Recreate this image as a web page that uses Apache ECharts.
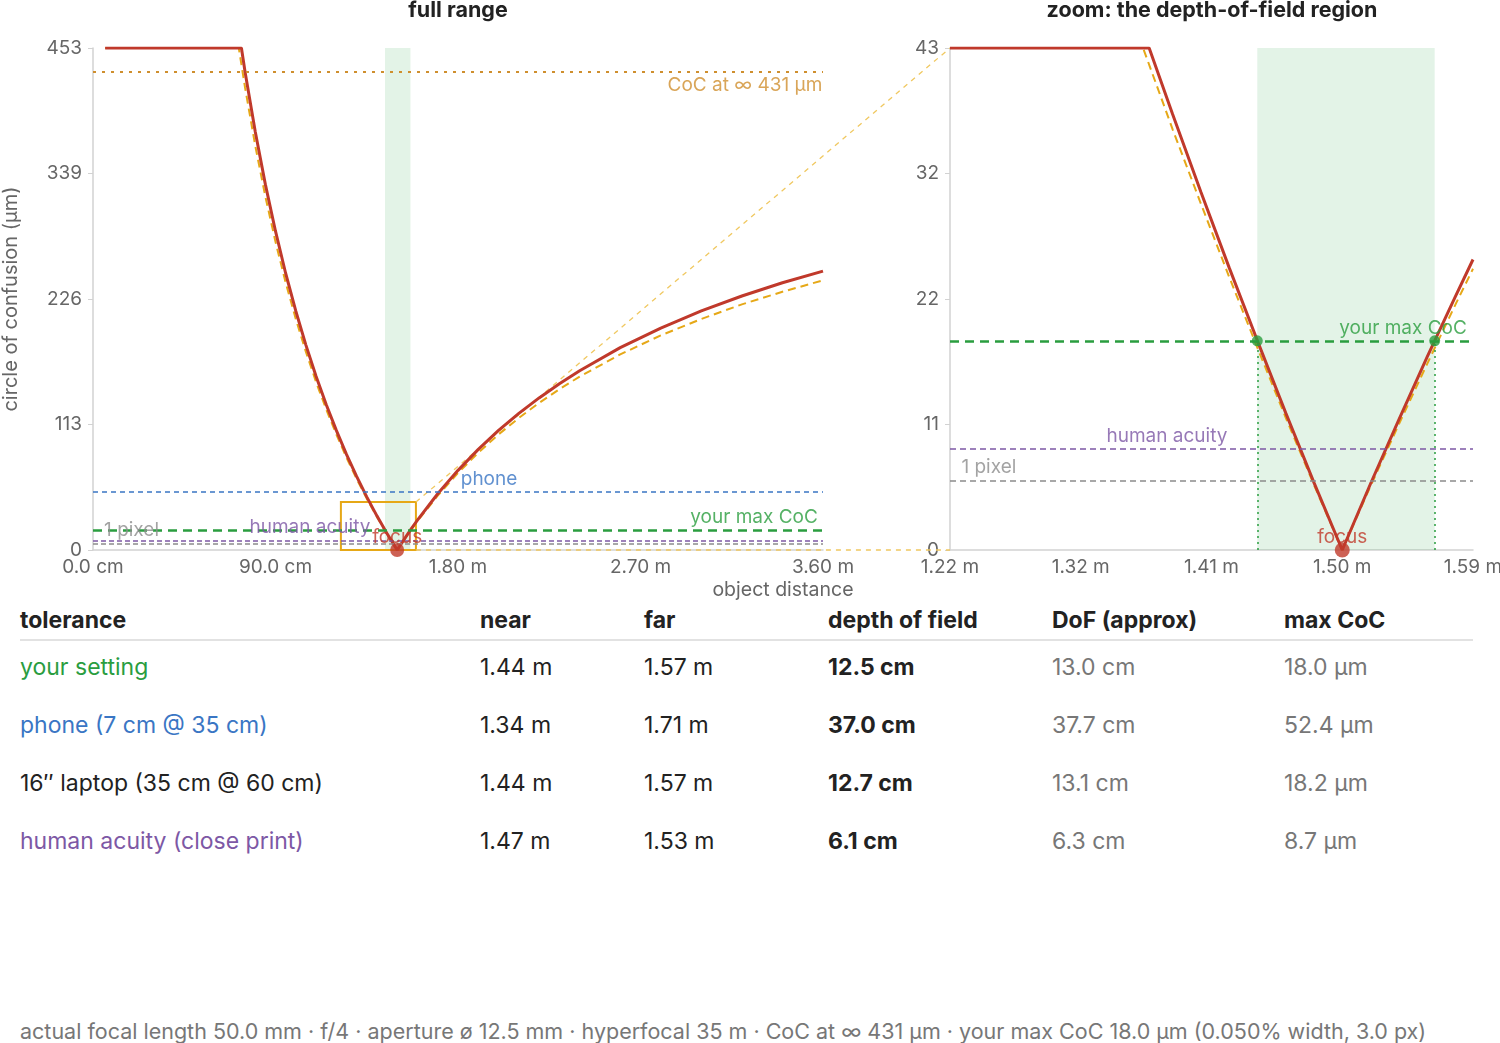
<!DOCTYPE html>
<html>
<head>
<meta charset="UTF-8">
<title>depth of field</title>
<script src="https://cdn.jsdelivr.net/npm/echarts@6/dist/echarts.min.js"></script>
<style>
  body { margin: 0; background: #fff; font-family: Inter, "Noto Sans", sans-serif; }
  #page { position: relative; width: 1500px; height: 1043px; overflow: hidden; }
  #chart { position: absolute; left: 0; top: 0; width: 1500px; height: 600px; }
  .cell { position: absolute; font-size: 23px; line-height: 1; white-space: nowrap; transform: translateY(-50%); color: #222; }
  .head { font-weight: 700; }
  .bold { font-weight: 700; }
  .muted { color: #777; }
  #rule { position: absolute; left: 20px; top: 639px; width: 1453px; height: 2px; background: #e2e2e2; }
  #foot { position: absolute; left: 20px; top: 1031px; transform: translateY(-50%); font-size: 21.5px; color: #777; white-space: nowrap; }
</style>
</head>
<body>
<div id="page">
  <div id="chart"></div>
  <div id="table"></div>
  <div id="rule"></div>
  <div id="foot"></div>
</div>
<script type="text/javascript">
// circle of confusion (um) against object distance (m)
var curveExact = [[0.06, 452.55], [0.732, 452.55], [0.75, 431.0], [0.8, 377.2], [0.85, 329.6], [0.9, 287.4],
  [0.95, 249.5], [1.0, 215.5], [1.05, 184.7], [1.1, 156.7], [1.15, 131.2], [1.2, 107.8], [1.25, 86.2],
  [1.3, 66.3], [1.35, 47.9], [1.4, 30.8], [1.44, 18.0], [1.45, 14.9], [1.5, 0], [1.55, 13.9], [1.57, 19.2],
  [1.6, 26.9], [1.7, 50.7], [1.8, 71.8], [1.9, 90.7], [2.0, 107.8], [2.1, 123.2], [2.2, 137.1], [2.3, 149.9],
  [2.4, 161.6], [2.6, 182.4], [2.8, 200.1], [3.0, 215.5], [3.2, 229.0], [3.4, 240.9], [3.6, 251.4]];
var curveApprox = [[0.06, 452.55], [0.719, 452.55], [0.75, 416.7], [0.8, 364.6], [0.85, 318.6], [0.9, 277.8],
  [0.95, 241.2], [1.0, 208.3], [1.05, 178.6], [1.1, 151.5], [1.15, 126.8], [1.2, 104.2], [1.25, 83.3],
  [1.3, 64.1], [1.35, 46.3], [1.4, 29.8], [1.45, 14.4], [1.5, 0], [1.55, 13.4], [1.6, 26.0], [1.7, 49.0],
  [1.8, 69.4], [1.9, 87.7], [2.0, 104.2], [2.1, 119.0], [2.2, 132.6], [2.3, 145.0], [2.4, 156.3],
  [2.6, 176.3], [2.8, 193.5], [3.0, 208.3], [3.2, 221.4], [3.4, 232.8], [3.6, 243.1]];
var zoomExact = [[1.2225, 43.2], [1.3634, 43.2], [1.38, 37.5], [1.4, 30.8], [1.42, 24.3], [1.44, 18.0],
  [1.46, 11.8], [1.48, 5.8], [1.5, 0], [1.52, 5.7], [1.54, 11.2], [1.56, 16.6], [1.58, 21.8], [1.5925, 25.0]];
var zoomApprox = [[1.2225, 43.2], [1.3591, 43.2], [1.38, 36.2], [1.4, 29.8], [1.42, 23.5], [1.44, 17.4],
  [1.46, 11.4], [1.48, 5.6], [1.5, 0], [1.52, 5.5], [1.54, 10.8], [1.56, 16.0], [1.58, 21.1], [1.5925, 24.2]];

// reference levels (um) and limits (m)
var cocInf = 431, maxCoc = 18.0, phoneCoc = 52.4, acuityCoc = 8.7, pixelCoc = 6.0;
var focusDist = 1.5, nearLimit = 1.4399, farLimit = 1.5654;
var fullX = [0, 3.6], fullY = [0, 452.55];
var zoomX = [1.2225, 1.5925], zoomY = [0, 43.2];
var zoomTicks = [1.2225, 1.315, 1.4075, 1.5, 1.5925];

// table
var tolNames = ['your setting', 'phone (7 cm @ 35 cm)', '16\u2033 laptop (35 cm @ 60 cm)', 'human acuity (close print)'];
var tolNear = ['1.44 m', '1.34 m', '1.44 m', '1.47 m'];
var tolFar = ['1.57 m', '1.71 m', '1.57 m', '1.53 m'];
var tolDof = ['12.5 cm', '37.0 cm', '12.7 cm', '6.1 cm'];
var tolApprox = ['13.0 cm', '37.7 cm', '13.1 cm', '6.3 cm'];
var tolMax = ['18.0 \u00b5m', '52.4 \u00b5m', '18.2 \u00b5m', '8.7 \u00b5m'];
var tableHead = ['tolerance', 'near', 'far', 'depth of field', 'DoF (approx)', 'max CoC'];
var footText = 'actual focal length 50.0 mm \u00b7 f/4 \u00b7 aperture \u00f8 12.5 mm \u00b7 hyperfocal 35 m \u00b7 CoC at \u221e 431 \u00b5m \u00b7 your max CoC 18.0 \u00b5m (0.050% width, 3.0 px)';

var RED = '#c0392b', YEL = '#e6a817', GREEN = '#2a9d3f', BLUE = '#3a76c4', PURPLE = '#7d58a5', GRAY = '#8c8c8c', ORANGE = '#cf8f2e';
var FONT = 'Inter, "Noto Sans", sans-serif';

var tolColors = [GREEN, BLUE, '#222', PURPLE];
var colX = [20, 480, 644, 828, 1052, 1284];
var headY = 620, rowY = [667, 725, 783, 841];

function cell(x, y, text, cls, color) {
  return '<div class="cell ' + cls + '" style="left:' + x + 'px;top:' + y + 'px;' + (color ? 'color:' + color : '') + '">' + text + '</div>';
}
var html = '';
tableHead.forEach(function (h, i) { html += cell(colX[i], headY, h, 'head'); });
tolNames.forEach(function (n, r) {
  html += cell(colX[0], rowY[r], n, '', tolColors[r]);
  html += cell(colX[1], rowY[r], tolNear[r], '');
  html += cell(colX[2], rowY[r], tolFar[r], '');
  html += cell(colX[3], rowY[r], tolDof[r], 'bold');
  html += cell(colX[4], rowY[r], tolApprox[r], 'muted');
  html += cell(colX[5], rowY[r], tolMax[r], 'muted');
});
document.getElementById('table').innerHTML = html;
document.getElementById('foot').textContent = footText;

function hline(y, color, width, type) {
  return { yAxis: y, lineStyle: { color: color, width: width, type: type } };
}
function tag(x, y, text, color, pos) {
  return { value: [x, y], label: { show: true, formatter: text, color: color, position: pos || 'top', distance: 3 } };
}

var labelStyle = { fontSize: 19, fontFamily: FONT };
var tickFont = { color: '#666', fontSize: 19, fontFamily: FONT };
var axisCommon = {
  axisLine: { lineStyle: { color: '#d2d2d2', width: 1.5 } },
  splitLine: { show: false }
};

var chart = echarts.init(document.getElementById('chart'));
var option = {
  animation: false,
  textStyle: { fontFamily: FONT },
  title: [
    { text: 'full range', left: 458, top: 0, textAlign: 'center', padding: 0, textStyle: { fontSize: 21.5, fontWeight: 'bold', color: '#222', fontFamily: FONT } },
    { text: 'zoom: the depth-of-field region', left: 1212, top: 0, textAlign: 'center', padding: 0, textStyle: { fontSize: 21.5, fontWeight: 'bold', color: '#222', fontFamily: FONT } },
    { text: 'object distance', left: 783, top: 580, textAlign: 'center', padding: 0, textStyle: { fontSize: 19.5, fontWeight: 'normal', color: '#666', fontFamily: FONT } }
  ],
  grid: [
    { left: 93, top: 48, width: 730, height: 502, containLabel: false, outerBoundsMode: 'none' },
    { left: 950, top: 48, width: 523, height: 502, containLabel: false, outerBoundsMode: 'none' }
  ],
  xAxis: [
    Object.assign({
      type: 'value', gridIndex: 0, min: fullX[0], max: fullX[1], interval: 0.9,
      axisTick: { show: false },
      axisLabel: Object.assign({ margin: 8,
        formatter: function (v) { return v < 1 ? (v * 100).toFixed(1) + ' cm' : v.toFixed(2) + ' m'; } }, tickFont)
    }, axisCommon),
    Object.assign({
      type: 'value', gridIndex: 1, min: zoomX[0], max: zoomX[1], interval: 0.0925,
      axisTick: { show: false, customValues: zoomTicks },
      axisLabel: Object.assign({ margin: 8, customValues: zoomTicks,
        formatter: function (v) { return (v + 1e-9).toFixed(2) + ' m'; } }, tickFont)
    }, axisCommon)
  ],
  yAxis: [
    Object.assign({
      type: 'value', gridIndex: 0, min: fullY[0], max: fullY[1], interval: fullY[1] / 4,
      name: 'circle of confusion (\u00b5m)', nameLocation: 'middle', nameGap: 72,
      nameTextStyle: { color: '#666', fontSize: 20, fontFamily: FONT },
      axisTick: { show: true, length: 5, lineStyle: { color: '#d2d2d2' } },
      axisLabel: Object.assign({ margin: 11, formatter: function (v) { return Math.round(v); } }, tickFont)
    }, axisCommon),
    Object.assign({
      type: 'value', gridIndex: 1, min: zoomY[0], max: zoomY[1], interval: zoomY[1] / 4,
      axisTick: { show: true, length: 5, lineStyle: { color: '#d2d2d2' } },
      axisLabel: Object.assign({ margin: 11, formatter: function (v) { return Math.round(v); } }, tickFont)
    }, axisCommon)
  ],
  series: [
    // ---- full range ----
    {
      type: 'line', xAxisIndex: 0, yAxisIndex: 0, data: [], z: 1, silent: true,
      markArea: { silent: true, itemStyle: { color: 'rgba(40,160,70,0.13)' },
        data: [[{ xAxis: nearLimit, yAxis: fullY[0] }, { xAxis: farLimit, yAxis: fullY[1] }]] },
      markLine: { silent: true, symbol: 'none', label: { show: false },
        data: [
          hline(cocInf, ORANGE, 2, [3, 6]),
          hline(phoneCoc, BLUE, 1.5, [5, 4]),
          hline(maxCoc, GREEN, 2.5, [9, 6]),
          hline(acuityCoc, PURPLE, 1.5, [5, 3]),
          hline(pixelCoc, GRAY, 1.5, [5, 3])
        ] }
    },
    { type: 'line', xAxisIndex: 0, yAxisIndex: 0, data: curveApprox, showSymbol: false, z: 3, silent: true,
      lineStyle: { color: YEL, width: 2, type: [8, 5] } },
    { type: 'line', xAxisIndex: 0, yAxisIndex: 0, data: curveExact, showSymbol: false, z: 4, silent: true,
      lineStyle: { color: RED, width: 3 } },
    {
      type: 'line', xAxisIndex: 0, yAxisIndex: 0, data: [], z: 5, silent: true,
      markArea: { silent: true, itemStyle: { color: 'rgba(0,0,0,0)', borderColor: YEL, borderWidth: 2 },
        data: [[{ xAxis: zoomX[0], yAxis: zoomY[0] }, { xAxis: zoomX[1], yAxis: zoomY[1] }]] }
    },
    { type: 'scatter', xAxisIndex: 0, yAxisIndex: 0, data: [[focusDist, 0]], symbolSize: 14, z: 6, clip: false,
      itemStyle: { color: RED }, silent: true },
    {
      type: 'scatter', xAxisIndex: 0, yAxisIndex: 0, symbolSize: 1, itemStyle: { color: 'rgba(0,0,0,0)' }, z: 7, silent: true, clip: false,
      label: labelStyle,
      data: [
        tag(3.215, cocInf, 'CoC at \u221e 431 \u00b5m', ORANGE, 'bottom'),
        tag(1.953, phoneCoc, 'phone', BLUE),
        tag(3.26, maxCoc, 'your max CoC', GREEN),
        tag(1.07, acuityCoc, 'human acuity', PURPLE),
        tag(0.19, pixelCoc, '1 pixel', GRAY),
        tag(focusDist, 0, 'focus', RED)
      ]
    },
    // ---- zoom ----
    {
      type: 'line', xAxisIndex: 1, yAxisIndex: 1, data: [], z: 1, silent: true,
      markArea: { silent: true, itemStyle: { color: 'rgba(40,160,70,0.13)' },
        data: [[{ xAxis: nearLimit, yAxis: zoomY[0] }, { xAxis: farLimit, yAxis: zoomY[1] }]] },
      markLine: { silent: true, symbol: 'none', label: { show: false },
        data: [
          hline(maxCoc, GREEN, 2.5, [9, 6]),
          hline(acuityCoc, PURPLE, 1.5, [6, 4]),
          hline(pixelCoc, GRAY, 1.5, [6, 4]),
          [{ coord: [nearLimit, 0], lineStyle: { color: GREEN, width: 1.5, type: [2, 4] } }, { coord: [nearLimit, maxCoc] }],
          [{ coord: [farLimit, 0], lineStyle: { color: GREEN, width: 1.5, type: [2, 4] } }, { coord: [farLimit, maxCoc] }]
        ] }
    },
    { type: 'line', xAxisIndex: 1, yAxisIndex: 1, data: zoomApprox, showSymbol: false, z: 3, silent: true,
      lineStyle: { color: YEL, width: 2, type: [8, 5] } },
    { type: 'line', xAxisIndex: 1, yAxisIndex: 1, data: zoomExact, showSymbol: false, z: 4, silent: true,
      lineStyle: { color: RED, width: 3 } },
    { type: 'scatter', xAxisIndex: 1, yAxisIndex: 1, data: [[nearLimit, maxCoc], [farLimit, maxCoc]], symbolSize: 11, z: 6,
      itemStyle: { color: GREEN }, silent: true },
    { type: 'scatter', xAxisIndex: 1, yAxisIndex: 1, data: [[focusDist, 0]], symbolSize: 15, z: 6, clip: false,
      itemStyle: { color: RED }, silent: true },
    {
      type: 'scatter', xAxisIndex: 1, yAxisIndex: 1, symbolSize: 1, itemStyle: { color: 'rgba(0,0,0,0)' }, z: 7, silent: true, clip: false,
      label: labelStyle,
      data: [
        tag(1.543, maxCoc, 'your max CoC', GREEN),
        tag(1.376, acuityCoc, 'human acuity', PURPLE),
        tag(1.25, pixelCoc, '1 pixel', GRAY),
        tag(focusDist, 0, 'focus', RED)
      ]
    }
  ]
};
chart.setOption(option);

// connectors from the zoom box to the zoom panel
var a = chart.convertToPixel({ gridIndex: 0 }, [zoomX[1], zoomY[1]]);
var b = chart.convertToPixel({ gridIndex: 1 }, [zoomX[0], zoomY[1]]);
var c = chart.convertToPixel({ gridIndex: 0 }, [zoomX[1], zoomY[0]]);
var d = chart.convertToPixel({ gridIndex: 1 }, [zoomX[0], zoomY[0]]);
var connStyle = { stroke: '#f0c860', lineWidth: 1.3, lineDash: [5, 5] };
chart.setOption({
  graphic: [
    { type: 'line', silent: true, z: 2, shape: { x1: a[0], y1: a[1], x2: b[0], y2: b[1] }, style: connStyle },
    { type: 'line', silent: true, z: 2, shape: { x1: c[0], y1: c[1], x2: d[0], y2: d[1] }, style: connStyle }
  ]
});
</script>
</body>
</html>
